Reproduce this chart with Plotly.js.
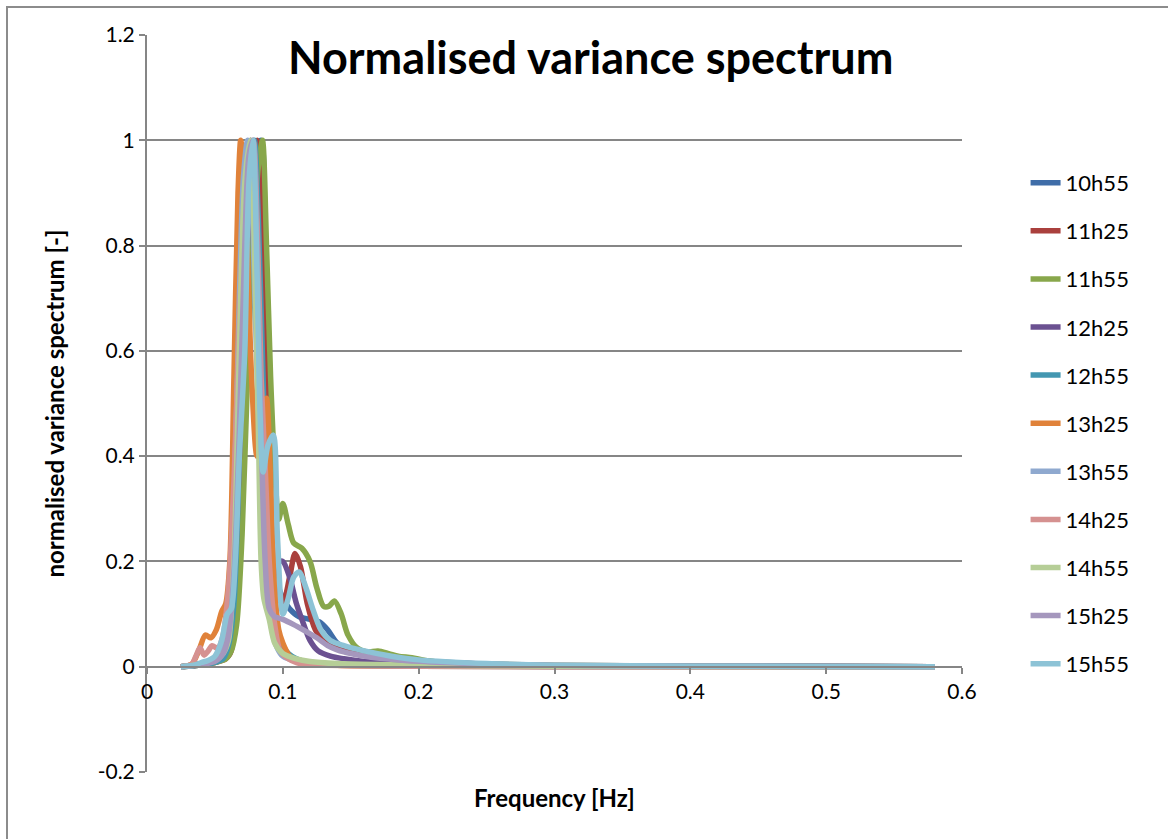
<!DOCTYPE html>
<html>
<head>
<meta charset="utf-8">
<script src="https://cdn.plot.ly/plotly-3.0.1.min.js"></script>
<style>
  html, body { margin: 0; padding: 0; background: #fff; }
  #wrap { position: relative; width: 1168px; height: 839px; overflow: hidden; }
  #chart { position: absolute; left: 0; top: 0; width: 1168px; height: 839px; }
  #frame { position: absolute; left: 6px; top: 6px; width: 1300px; height: 1000px;
           border-left: 2px solid #8c8c8c; border-top: 2px solid #8c8c8c; pointer-events: none; }
</style>
</head>
<body>
<div id="wrap"><div id="chart"></div><div id="frame"></div></div>
<script>
// Series names
const seriesNames = ["10h55","11h25","11h55","12h25","12h55","13h25","13h55","14h25","14h55","15h25","15h55"];

// Frequency [Hz] and normalised variance spectrum values per series
const f10h55 = [0.025,0.035,0.045,0.052,0.058,0.062,0.066,0.070,0.074,0.078,0.081,0.084,0.087,0.090,0.094,0.1,0.105,0.112,0.12,0.127,0.133,0.14,0.15,0.16,0.18,0.2,0.25,0.3,0.4,0.5,0.58];
const v10h55 = [0,0.004,0.01,0.02,0.04,0.1,0.25,0.5,0.75,0.93,0.99,1.0,0.7,0.3,0.18,0.13,0.11,0.095,0.09,0.085,0.07,0.045,0.03,0.025,0.018,0.012,0.005,0.002,0.001,0.0005,0];

const f11h25 = [0.025,0.04,0.05,0.058,0.062,0.066,0.07,0.074,0.078,0.081,0.084,0.087,0.091,0.095,0.1,0.105,0.109,0.113,0.118,0.124,0.13,0.14,0.15,0.16,0.18,0.2,0.25,0.3,0.4,0.58];
const v11h25 = [0,0.003,0.008,0.015,0.03,0.15,0.45,0.8,0.97,1.0,0.9,0.6,0.3,0.15,0.12,0.17,0.215,0.19,0.12,0.07,0.05,0.035,0.028,0.022,0.015,0.01,0.004,0.002,0.001,0];

const f11h55 = [0.025,0.04,0.05,0.058,0.062,0.066,0.07,0.074,0.078,0.082,0.085,0.088,0.091,0.094,0.097,0.1,0.104,0.108,0.114,0.12,0.125,0.13,0.134,0.138,0.143,0.148,0.155,0.162,0.17,0.178,0.185,0.195,0.205,0.22,0.25,0.3,0.35,0.4,0.5,0.58];
const v11h55 = [0,0.003,0.008,0.015,0.03,0.08,0.25,0.55,0.8,0.95,1.0,0.8,0.55,0.38,0.28,0.31,0.27,0.235,0.225,0.2,0.15,0.115,0.115,0.125,0.1,0.06,0.035,0.028,0.03,0.025,0.02,0.017,0.012,0.008,0.005,0.003,0.002,0.001,0.0005,0];

const f12h25 = [0.025,0.04,0.05,0.056,0.06,0.064,0.068,0.072,0.076,0.08,0.084,0.088,0.092,0.096,0.1,0.105,0.11,0.114,0.12,0.126,0.135,0.145,0.16,0.18,0.2,0.25,0.3,0.4,0.58];
const v12h25 = [0,0.004,0.01,0.025,0.06,0.2,0.55,0.9,1.0,0.85,0.55,0.3,0.2,0.2,0.2,0.17,0.12,0.09,0.05,0.03,0.02,0.015,0.01,0.007,0.005,0.003,0.002,0.001,0];

const f12h55 = [0.025,0.04,0.05,0.056,0.06,0.064,0.068,0.072,0.076,0.079,0.082,0.086,0.09,0.094,0.098,0.104,0.11,0.12,0.14,0.2,0.3,0.58];
const v12h55 = [0,0.003,0.008,0.015,0.04,0.12,0.4,0.75,0.95,1.0,0.85,0.5,0.22,0.1,0.05,0.025,0.015,0.008,0.004,0.002,0.001,0];

const f13h25 = [0.025,0.033,0.038,0.043,0.047,0.051,0.055,0.058,0.061,0.064,0.067,0.069,0.073,0.077,0.081,0.085,0.088,0.091,0.094,0.097,0.1,0.105,0.11,0.12,0.14,0.2,0.3,0.58];
const v13h25 = [0,0.005,0.03,0.06,0.055,0.07,0.105,0.12,0.2,0.55,0.9,1.0,0.85,0.55,0.4,0.45,0.51,0.35,0.15,0.07,0.045,0.02,0.012,0.006,0.003,0.001,0,0];

const f13h55 = [0.025,0.04,0.05,0.056,0.06,0.064,0.068,0.071,0.074,0.077,0.08,0.084,0.088,0.092,0.096,0.1,0.11,0.12,0.15,0.2,0.3,0.58];
const v13h55 = [0,0.005,0.012,0.03,0.08,0.3,0.7,0.93,1.0,0.9,0.65,0.35,0.15,0.07,0.035,0.02,0.01,0.006,0.003,0.001,0,0];

const f14h25 = [0.025,0.033,0.036,0.039,0.042,0.045,0.048,0.052,0.056,0.06,0.064,0.068,0.072,0.075,0.078,0.081,0.084,0.087,0.09,0.094,0.098,0.104,0.11,0.12,0.15,0.2,0.3,0.58];
const v14h25 = [0,0.005,0.02,0.036,0.022,0.03,0.04,0.035,0.06,0.15,0.35,0.65,0.9,0.98,1.0,0.85,0.55,0.38,0.2,0.08,0.03,0.015,0.008,0.004,0.002,0.001,0,0];

const f14h55 = [0.025,0.04,0.05,0.056,0.06,0.064,0.068,0.072,0.076,0.079,0.082,0.084,0.086,0.09,0.094,0.1,0.11,0.12,0.14,0.17,0.2,0.25,0.3,0.58];
const v14h55 = [0,0.005,0.012,0.025,0.05,0.2,0.6,0.92,1.0,0.8,0.45,0.2,0.13,0.09,0.045,0.025,0.015,0.01,0.006,0.004,0.003,0.002,0.001,0];

const f15h25 = [0.025,0.04,0.05,0.056,0.06,0.064,0.068,0.072,0.075,0.078,0.081,0.084,0.087,0.09,0.094,0.1,0.108,0.115,0.125,0.133,0.14,0.15,0.165,0.19,0.22,0.25,0.3,0.4,0.58];
const v15h25 = [0,0.004,0.01,0.025,0.06,0.18,0.45,0.8,0.97,1.0,0.8,0.45,0.2,0.11,0.095,0.09,0.08,0.07,0.055,0.04,0.032,0.025,0.018,0.012,0.008,0.005,0.003,0.001,0];

const f15h55 = [0.025,0.035,0.04,0.045,0.05,0.055,0.059,0.062,0.065,0.068,0.072,0.075,0.078,0.081,0.083,0.0855,0.089,0.093,0.096,0.1,0.104,0.108,0.112,0.117,0.122,0.128,0.135,0.145,0.16,0.18,0.2,0.25,0.3,0.4,0.5,0.58];
const v15h55 = [0,0.003,0.008,0.012,0.02,0.05,0.1,0.11,0.2,0.4,0.6,0.92,1.0,0.75,0.5,0.37,0.42,0.44,0.25,0.1,0.13,0.17,0.18,0.15,0.11,0.07,0.05,0.04,0.03,0.02,0.013,0.006,0.003,0.001,0.0005,0];

// Axis tick values and labels
const yTickVals = [-0.2,0,0.2,0.4,0.6,0.8,1,1.2];
const yTickText = ["-0.2","0","0.2","0.4","0.6","0.8","1","1.2"];
const xTickVals = [0,0.1,0.2,0.3,0.4,0.5,0.6];
const xTickText = ["0","0.1","0.2","0.3","0.4","0.5","0.6"];

const freqs = [f10h55,f11h25,f11h55,f12h25,f12h55,f13h25,f13h55,f14h25,f14h55,f15h25,f15h55];
const vals  = [v10h55,v11h25,v11h55,v12h25,v12h55,v13h25,v13h55,v14h25,v14h55,v15h25,v15h55];
const colors = ["#3F6DA8","#AA403D","#88A74B","#6B5191","#4397B1","#E0823A","#8FA9CF","#D59190","#B6CE97","#A597BD","#8DC3D6"];

const font = "Lato, 'Open Sans', sans-serif";

const traces = seriesNames.map((name, i) => ({
  type: "scatter",
  mode: "lines",
  name: name,
  legendgroup: name,
  x: freqs[i],
  y: vals[i],
  line: { color: colors[i], width: 5.5, shape: "spline", smoothing: 0.8 },
  hoverinfo: "skip"
}));

const layout = {
  width: 1168,
  height: 839,
  margin: { l: 147, r: 206, t: 35, b: 67, pad: 0 },
  paper_bgcolor: "#ffffff",
  plot_bgcolor: "#ffffff",
  font: { family: font, color: "#000000", size: 21 },
  showlegend: true,
  legend: {
    x: 1.078, xanchor: "left",
    y: 0.473, yanchor: "middle",
    font: { family: font, size: 22, color: "#000" },
    tracegroupgap: 16.5,
    traceorder: "grouped",
    bgcolor: "rgba(0,0,0,0)"
  },
  annotations: [{
    text: "<b>Normalised variance spectrum</b>",
    xref: "paper", yref: "paper",
    x: 0.544, y: 0.97, xanchor: "center", yanchor: "middle",
    showarrow: false,
    font: { family: font, size: 45, color: "#000" }
  }, {
    text: "<b>Frequency [Hz]</b>",
    xref: "paper", yref: "paper",
    x: 0.5, y: -0.034, xanchor: "center", yanchor: "middle",
    showarrow: false,
    font: { family: font, size: 24, color: "#000" }
  }],
  xaxis: {
    range: [0, 0.6],
    tickvals: xTickVals, ticktext: xTickText,
    showgrid: false, zeroline: false,
    showline: true, linecolor: "#868686", linewidth: 2,
    anchor: "free", position: 0.142857,
    ticks: "outside", ticklen: 6, tickcolor: "#868686", tickwidth: 2,
    tickfont: { family: font, size: 21, color: "#000" },
    automargin: false
  },
  yaxis: {
    range: [-0.2, 1.2],
    tickvals: yTickVals, ticktext: yTickText,
    showgrid: true, gridcolor: "#868686", gridwidth: 2,
    zeroline: false,
    showline: true, linecolor: "#868686", linewidth: 2,
    ticks: "outside", ticklen: 6, tickcolor: "#868686", tickwidth: 2,
    tickfont: { family: font, size: 21, color: "#000" },
    title: { text: "<b>normalised variance spectrum [-]</b>", font: { family: font, size: 24, color: "#000" }, standoff: 26 },
    automargin: false
  }
};

Plotly.newPlot("chart", traces, layout, { staticPlot: true, displayModeBar: false });
</script>
</body>
</html>
